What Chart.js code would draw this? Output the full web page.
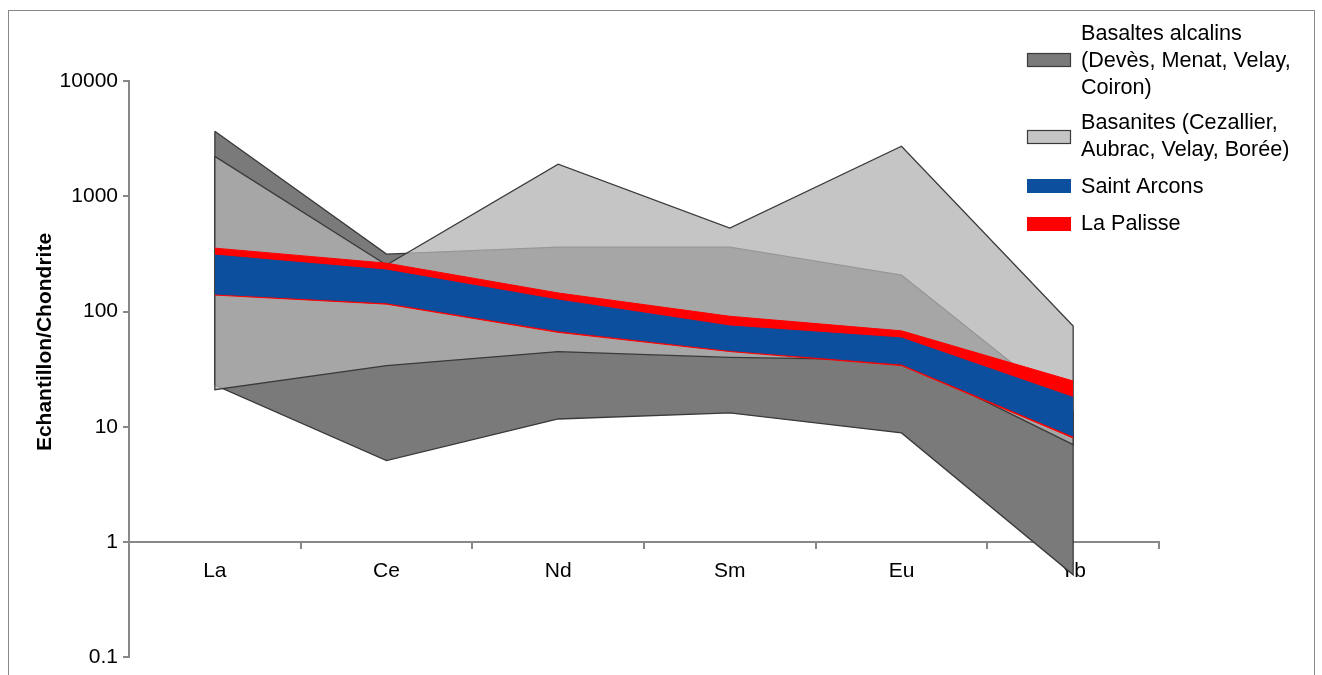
<!DOCTYPE html>
<html>
<head>
<meta charset="utf-8">
<script src="https://cdn.jsdelivr.net/npm/chart.js@4.4.1/dist/chart.umd.min.js"></script>
<style>
  body { margin: 0; background: #fff; }
  #wrap { position: relative; width: 1322px; height: 675px; }
</style>
</head>
<body>
<div id="wrap"><canvas id="spectre" width="1322" height="675"></canvas></div>
<script>
// Terres rares normalisees aux chondrites
const categories = ['La', 'Ce', 'Nd', 'Sm', 'Eu', 'Yb'];
const yTicks = [0.1, 1, 10, 100, 1000, 10000];

const basaltesUpper = [3660, 315, 362, 362, 207, 13.5];
const basaltesLower = [23, 5.1, 11.7, 13.2, 8.85, 0.52];
const basanitesUpper = [2220, 253, 1900, 530, 2720, 75];
const basanitesLower = [21, 34, 45, 40, 38, 7.0];
const palisseUpper = [355, 263, 145, 91, 68, 25];
const palisseLower = [139, 116, 66, 45, 34, 8.0];
const arconsUpper = [309, 229, 126, 75, 59, 18];
const arconsLower = [142, 119, 68, 46, 35, 8.3];

const legendLabels = [
    ['Basaltes alcalins', '(Devès, Menat, Velay,', 'Coiron)'],
    ['Basanites (Cezallier,', 'Aubrac, Velay, Borée)'],
    ['Saint Arcons'],
    ['La Palisse']
];

const FONT = '"Liberation Sans", Arial, sans-serif';
const DARK = '#7a7a7a';
const LIGHT = 'rgba(179, 179, 179, 0.77)';
const EDGE = '#3a3a3a';
const BLUE = '#0b4f9e';
const RED = '#ff0000';

// contour ferme : bord superieur puis bord inferieur a l'envers
function outline(upper, lower) {
    const pts = categories.map((c, i) => ({ x: c, y: upper[i] }));
    for (let i = categories.length - 1; i >= 0; i--) pts.push({ x: categories[i], y: lower[i] });
    pts.push({ x: categories[0], y: upper[0] });
    return pts;
}

function band(data, color, fillTarget, order, width) {
    return {
        data: data,
        borderColor: color,
        backgroundColor: color,
        borderWidth: width,
        pointRadius: 0,
        tension: 0,
        fill: fillTarget,
        order: order
    };
}

const frameAndTitle = {
    id: 'frameAndTitle',
    beforeDraw(chart) {
        const ctx = chart.ctx;
        ctx.save();
        ctx.strokeStyle = '#888';
        ctx.lineWidth = 1;
        ctx.strokeRect(8.5, 10.5, 1306, 700);
        ctx.restore();
    },
    afterDraw(chart) {
        const ctx = chart.ctx;
        ctx.save();
        ctx.translate(45, 342);
        ctx.rotate(-Math.PI / 2);
        ctx.font = 'bold 21px ' + FONT;
        ctx.fillStyle = '#000';
        ctx.textAlign = 'center';
        ctx.textBaseline = 'middle';
        ctx.fillText('Echantillon/Chondrite', 0, 0);
        ctx.restore();

        // legende
        const swatches = [
            { fill: DARK, stroke: EDGE, y: 53, baseline: 40 },
            { fill: LIGHT, stroke: EDGE, y: 130, baseline: 129 },
            { fill: BLUE, stroke: null, y: 179, baseline: 193 },
            { fill: RED, stroke: null, y: 217, baseline: 229.5 }
        ];
        ctx.save();
        ctx.font = '21.6px ' + FONT;
        ctx.fillStyle = '#000';
        ctx.textBaseline = 'alphabetic';
        swatches.forEach((s, i) => {
            ctx.fillStyle = s.fill;
            ctx.fillRect(1027, s.y, 44, 14);
            if (s.stroke) {
                ctx.strokeStyle = s.stroke;
                ctx.lineWidth = 1.2;
                ctx.strokeRect(1027.5, s.y + 0.5, 43, 13);
            }
            ctx.fillStyle = '#000';
            legendLabels[i].forEach((line, k) => {
                ctx.fillText(line, 1081, s.baseline + k * 26.8);
            });
        });
        ctx.restore();
    }
};

new Chart(document.getElementById('spectre'), {
    type: 'line',
    data: {
        labels: categories,
        datasets: [
            band(basaltesUpper, DARK, 1, 10, 0),
            band(basaltesLower, DARK, false, 9, 0),
            { data: outline(basaltesUpper, basaltesLower), borderColor: EDGE, borderWidth: 1.3, pointRadius: 0, fill: false, order: 8 },
            band(basanitesUpper, LIGHT, 4, 7, 0),
            band(basanitesLower, LIGHT, false, 6, 0),
            { data: outline(basanitesUpper, basanitesLower), borderColor: EDGE, borderWidth: 1.3, pointRadius: 0, fill: false, order: 5 },
            band(palisseUpper, RED, 7, 4, 1),
            band(palisseLower, RED, false, 3, 1),
            band(arconsUpper, BLUE, 9, 2, 1),
            band(arconsLower, BLUE, false, 1, 1)
        ]
    },
    options: {
        responsive: false,
        animation: false,
        layout: { padding: { left: 19, right: 163, top: 81, bottom: 17 } },
        plugins: {
            legend: { display: false },
            tooltip: { enabled: false }
        },
        scales: {
            x: {
                position: { y: 1 },
                offset: true,
                grid: { offset: true, drawOnChartArea: false, tickLength: 6, color: '#888', lineWidth: 2 },
                border: { color: '#888', width: 2 },
                ticks: { color: '#000', padding: 10, font: { family: FONT, size: 21 } }
            },
            y: {
                type: 'logarithmic',
                min: 0.1,
                max: 10000,
                afterFit: s => { s.width = 110; },
                afterBuildTicks: s => { s.ticks = yTicks.map(v => ({ value: v })); },
                grid: { drawOnChartArea: false, tickLength: 6, color: '#888', lineWidth: 2 },
                border: { color: '#888', width: 2 },
                ticks: {
                    color: '#000',
                    padding: 5,
                    font: { family: FONT, size: 21 },
                    callback: v => String(v)
                }
            }
        }
    },
    plugins: [frameAndTitle]
});
</script>
</body>
</html>
